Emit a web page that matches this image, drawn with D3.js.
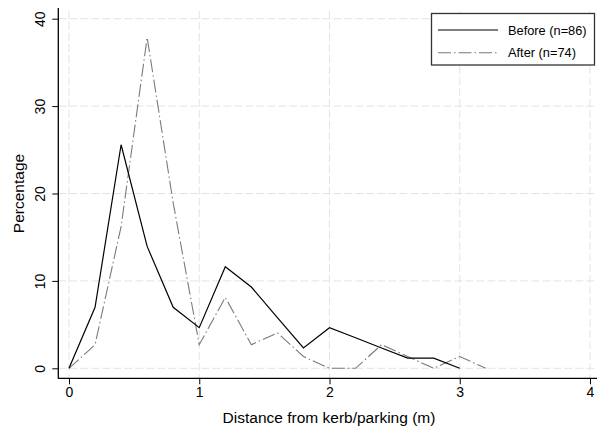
<!DOCTYPE html>
<html>
<head>
<meta charset="utf-8">
<script src="https://cdn.jsdelivr.net/npm/d3@7"></script>
<style>
  body { margin: 0; background: #fff; }
  text { font-family: "Liberation Sans", Arial, sans-serif; fill: #000; }
</style>
</head>
<body>
<script>
// distance bins (m)
const distBefore = [0, 0.2, 0.4, 0.6, 0.8, 1.0, 1.2, 1.4, 1.6, 1.8, 2.0, 2.2, 2.4, 2.6, 2.8, 3.0];
const pctBefore = [0, 6.98, 25.58, 13.95, 6.98, 4.65, 11.63, 9.30, 5.81, 2.33, 4.65, 3.49, 2.33, 1.16, 1.16, 0];
const distAfter = [0, 0.2, 0.4, 0.6, 0.8, 1.0, 1.2, 1.4, 1.6, 1.8, 2.0, 2.2, 2.4, 2.6, 2.8, 3.0, 3.2];
const pctAfter = [0, 2.70, 16.22, 37.84, 18.92, 2.70, 8.11, 2.70, 4.05, 1.35, 0, 0, 2.70, 1.35, 0, 1.35, 0];
const xTicks = [0, 1, 2, 3, 4];
const yTicks = [0, 10, 20, 30, 40];
const seriesNames = ['Before (n=86)', 'After (n=74)'];

const W = 597, H = 430;
const svg = d3.select('body').append('svg')
    .attr('width', W)
    .attr('height', H);

const x = d3.scaleLinear().domain([0, 4]).range([69, 590]);
const y = d3.scaleLinear().domain([0, 40]).range([368.3, 18.7]);

const axisX = 58.3, axisY = 378.3, plotTop = 8;

// grid
const grid = svg.append('g')
    .attr('stroke', '#e3e3e3')
    .attr('stroke-width', 1)
    .attr('stroke-dasharray', '8,3');
grid.selectAll('.gx').data(xTicks).join('line')
    .attr('x1', d => x(d)).attr('x2', d => x(d))
    .attr('y1', plotTop + 3).attr('y2', axisY);
grid.selectAll('.gy').data(yTicks).join('line')
    .attr('x1', axisX).attr('x2', W)
    .attr('y1', d => y(d)).attr('y2', d => y(d));

// axes
const yAxis = d3.axisLeft(y).tickValues(yTicks).tickFormat(d3.format('d')).tickSize(6);
const yAxisG = svg.append('g')
    .attr('transform', `translate(${axisX},0)`)
    .call(yAxis);
yAxisG.select('.domain').remove();
yAxisG.selectAll('text')
    .style('font-size', '14px')
    .attr('text-anchor', 'middle')
    .attr('x', 0).attr('dy', 0)
    .attr('transform', 'translate(-18.3,0) rotate(-90)')
    .attr('dominant-baseline', 'central');

const xAxis = d3.axisBottom(x).tickValues(xTicks).tickFormat(d3.format('d')).tickSize(6).tickPadding(3);
const xAxisG = svg.append('g')
    .attr('transform', `translate(0,${axisY})`)
    .call(xAxis);
xAxisG.select('.domain').remove();
xAxisG.selectAll('text').style('font-size', '14px');

svg.selectAll('.tick line').attr('stroke', '#000');

svg.append('line')
    .attr('x1', axisX).attr('x2', axisX)
    .attr('y1', plotTop).attr('y2', axisY + 0.5)
    .attr('stroke', '#000').attr('stroke-width', 1.3);
svg.append('line')
    .attr('x1', axisX).attr('x2', W)
    .attr('y1', axisY).attr('y2', axisY)
    .attr('stroke', '#000').attr('stroke-width', 1.3);

// titles
svg.append('text')
    .attr('x', (x(0) + x(4)) / 2 - 0.5).attr('y', 417)
    .attr('text-anchor', 'middle')
    .attr('dominant-baseline', 'central')
    .style('font-size', '15.5px')
    .text('Distance from kerb/parking (m)');
svg.append('text')
    .attr('transform', `translate(18,${y(20)}) rotate(-90)`)
    .attr('text-anchor', 'middle')
    .attr('dominant-baseline', 'central')
    .style('font-size', '15.5px')
    .text('Percentage');

// lines
const line = d3.line().x(d => x(d[0])).y(d => y(d[1]));
svg.append('path')
    .datum(d3.zip(distAfter, pctAfter))
    .attr('fill', 'none')
    .attr('stroke', '#7a7a7a')
    .attr('stroke-width', 1.1)
    .attr('stroke-dasharray', '13,3,1.5,3')
    .attr('d', line);
svg.append('path')
    .datum(d3.zip(distBefore, pctBefore))
    .attr('fill', 'none')
    .attr('stroke', '#000')
    .attr('stroke-width', 1.2)
    .attr('d', line);

// legend
const lg = svg.append('g');
lg.append('rect')
    .attr('x', 431.5).attr('y', 13.5)
    .attr('width', 163).attr('height', 51.5)
    .attr('fill', '#fff')
    .attr('stroke', '#333').attr('stroke-width', 1.3);
const legendStyles = [
    { stroke: '#000', dash: null, w: 1.2 },
    { stroke: '#7a7a7a', dash: '13,3,1.5,3', w: 1.1 }
];
seriesNames.forEach((name, i) => {
    const ly = 30 + i * 22.7;
    lg.append('line')
        .attr('x1', 438).attr('x2', 498)
        .attr('y1', ly).attr('y2', ly)
        .attr('stroke', legendStyles[i].stroke)
        .attr('stroke-width', legendStyles[i].w)
        .attr('stroke-dasharray', legendStyles[i].dash);
    lg.append('text')
        .attr('x', 508).attr('y', ly)
        .attr('dominant-baseline', 'central')
        .style('font-size', '12.8px')
        .text(name);
});
</script>
</body>
</html>
